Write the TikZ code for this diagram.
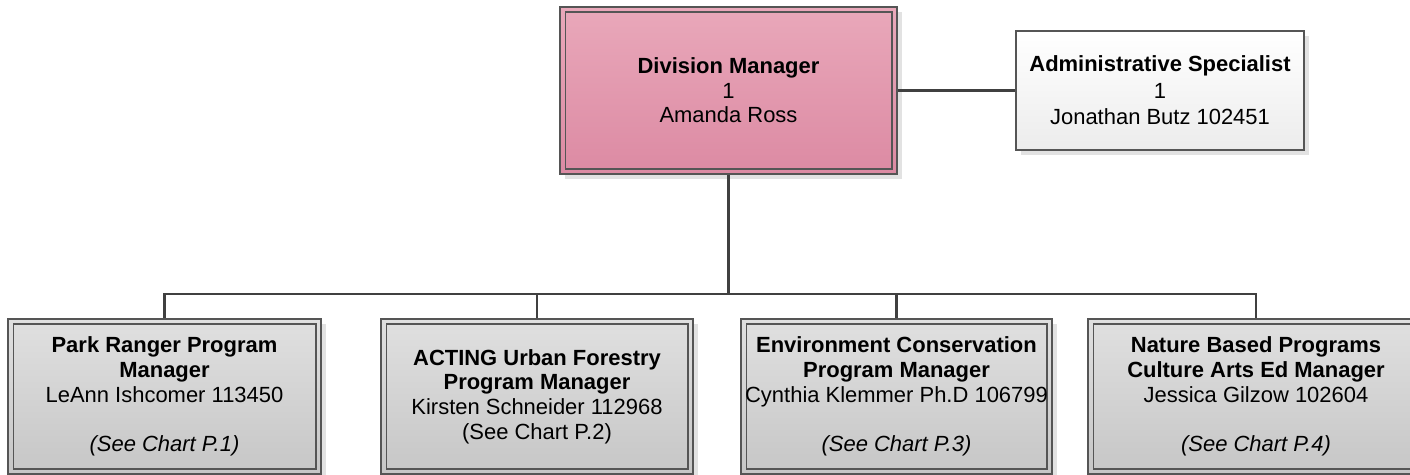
\documentclass[tikz,border=0pt]{standalone}
\usepackage{fontspec}
\setmainfont{Liberation Sans}
\usetikzlibrary{positioning, shadows}
\definecolor{pinktop}{RGB}{233,168,186}
\definecolor{pinkbot}{RGB}{220,138,163}
\definecolor{greytop}{RGB}{224,224,224}
\definecolor{greybot}{RGB}{198,198,198}
\definecolor{admbot}{RGB}{236,236,236}
\definecolor{edgegray}{RGB}{85,85,85}
\definecolor{linegray}{RGB}{64,64,64}
\definecolor{shadowgray}{RGB}{226,226,226}

\begin{document}
\begin{tikzpicture}[x=0.02cm, y=-0.02cm,
  card/.style={draw=edgegray, line width=0.7pt, align=center, inner sep=0pt,
               font=\fontsize{12.5}{14}\selectfont,
               drop shadow={shadow xshift=0.1cm, shadow yshift=-0.1cm,
                            fill=shadowgray, opacity=1}},
  dbl/.style={path picture={\draw[edgegray, line width=0.6pt]
               ([shift={(0.1cm,-0.1cm)}]path picture bounding box.north west) rectangle
               ([shift={(-0.1cm,0.1cm)}]path picture bounding box.south east);}},
  head/.style={card, dbl, top color=pinktop, bottom color=pinkbot,
               minimum width=6.74cm, minimum height=3.34cm},
  aide/.style={card, top color=white, bottom color=admbot,
               minimum width=5.76cm, minimum height=2.38cm,
               font=\fontsize{12.5}{15}\selectfont},
  unit/.style={card, dbl, top color=greytop, bottom color=greybot,
               minimum height=3.1cm},
  conn/.style={linegray, line width=1.2pt}
]
\useasboundingbox (0,0) rectangle (1410,475);

% top level
\node[head] (dm) at (728.5,90.5) {\textbf{Division Manager}\\1\\Amanda Ross};
\node[aide] (as) at (1160,90.5) {\textbf{Administrative Specialist}\\1\\Jonathan Butz 102451};

% program managers
\node[unit, minimum width=6.26cm] (pr) at (164.5,396.5)
  {\textbf{Park Ranger Program}\\\textbf{Manager}\\LeAnn Ishcomer 113450\\[14pt]\textit{(See Chart P.1)}};
\node[unit, minimum width=6.24cm] (uf) at (537,396.5)
  {\textbf{ACTING Urban Forestry}\\\textbf{Program Manager}\\Kirsten Schneider 112968\\(See Chart P.2)};
\node[unit, minimum width=6.22cm] (ec) at (896.5,396.5)
  {\textbf{Environment Conservation}\\\textbf{Program Manager}\\Cynthia Klemmer Ph.D 106799\\[14pt]\textit{(See Chart P.3)}};
\node[unit, minimum width=6.72cm] (nb) at (1256,396.5)
  {\textbf{Nature Based Programs}\\\textbf{Culture Arts Ed Manager}\\Jessica Gilzow 102604\\[14pt]\textit{(See Chart P.4)}};

% connectors
\coordinate (bus) at (728.5,294);
\draw[conn] (dm.east) -- (as.west);
\draw[conn] (dm.south) -- (bus);
\draw[conn] (pr.north) |- (bus) -| (nb.north);
\draw[conn] (uf.north) -- (uf.north |- bus);
\draw[conn] (ec.north) -- (ec.north |- bus);
\end{tikzpicture}
\end{document}
